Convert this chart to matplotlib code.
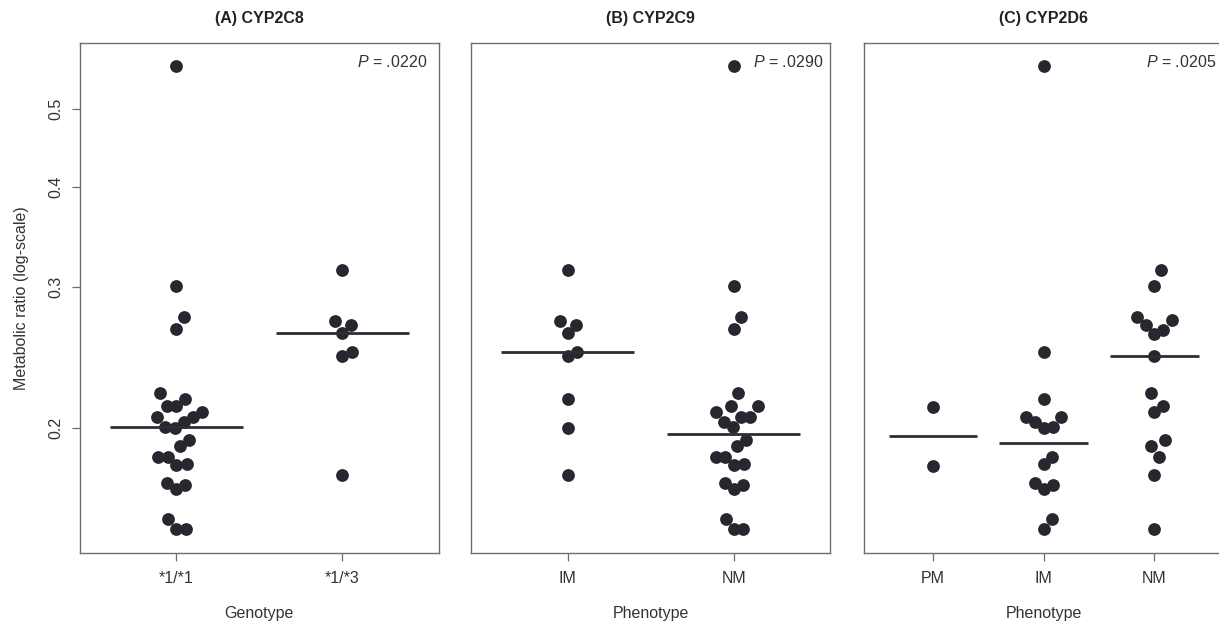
import numpy as np
import matplotlib
matplotlib.use('Agg')
import matplotlib.pyplot as plt

plt.rcParams['font.family'] = ['Liberation Sans', 'DejaVu Sans']
plt.rcParams['mathtext.fontset'] = 'custom'
plt.rcParams['mathtext.it'] = 'Liberation Sans:italic'
plt.rcParams['mathtext.rm'] = 'Liberation Sans'

# metabolic ratios
c8_11 = [0.566, 0.301, 0.275, 0.266, 0.221, 0.217, 0.213, 0.2126, 0.209, 0.2064,
         0.2064, 0.2031, 0.2004, 0.1998, 0.193, 0.1899, 0.1838, 0.1837, 0.180,
         0.1795, 0.1707, 0.1696, 0.1678, 0.1538, 0.1493, 0.1493]
c8_13 = [0.315, 0.272, 0.2688, 0.2624, 0.2489, 0.246, 0.1745]

c9_im = [0.315, 0.272, 0.2688, 0.2624, 0.2489, 0.246, 0.2172, 0.1998, 0.1745]
c9_nm = [0.566, 0.301, 0.275, 0.266, 0.221, 0.213, 0.2126, 0.209, 0.2064, 0.2064,
         0.2031, 0.2004, 0.193, 0.1899, 0.1838, 0.1837, 0.180, 0.1795, 0.1707,
         0.1696, 0.1678, 0.1538, 0.1493, 0.1493]

d6_pm = [0.2123, 0.1793]
d6_im = [0.566, 0.2489, 0.2174, 0.2064, 0.2035, 0.2064, 0.2, 0.2006, 0.184, 0.180,
         0.1707, 0.1694, 0.1678, 0.1538, 0.1493]
d6_nm = [0.3144, 0.301, 0.2753, 0.2727, 0.2688, 0.2652, 0.2618, 0.2458, 0.221,
         0.2129, 0.209, 0.193, 0.1899, 0.1837, 0.1745, 0.1493]

# horizontal summary lines as drawn
c8_lines = [0.2001, 0.2624]
c9_lines = [0.2489, 0.1966]
d6_lines = [0.1950, 0.1916, 0.2458]

titles = ['(A) CYP2C8', '(B) CYP2C9', '(C) CYP2D6']
xlabels = ['Genotype', 'Phenotype', 'Phenotype']
groups = [['*1/*1', '*1/*3'], ['IM', 'NM'], ['PM', 'IM', 'NM']]
pvals = ['.0220', '.0290', '.0205']
panels = [[c8_11, c8_13], [c9_im, c9_nm], [d6_pm, d6_im, d6_nm]]
lines = [c8_lines, c9_lines, d6_lines]

DOT = '#272730'
GREY = '#6e6e6e'
TXT = '#333333'
FS = 11.5
YLIM = (0.1393, 0.6056)


def swarm(ax, xpos, vals, sx=9.3, sy=21.0):
    # beeswarm style offsets, done in screen pixels, lowest values first
    vals = np.asarray(vals, float)
    disp = ax.transData.transform(np.column_stack([np.full(len(vals), xpos), vals]))
    ys = disp[:, 1]
    order = np.argsort(vals, kind='stable')
    px = np.zeros(len(vals))
    done = []
    for i in order:
        close = [j for j in done if abs(ys[i] - ys[j]) < sy]
        offs = [sx * np.sqrt(1 - ((ys[i] - ys[j]) / sy) ** 2) for j in close]
        cand = [0.0]
        cand += [px[j] + o for j, o in zip(close, offs)]
        cand += [px[j] - o for j, o in zip(close, offs)]
        best = None
        for c in cand:
            ok = all(abs(c - px[j]) >= o - 1e-6 for j, o in zip(close, offs))
            if ok and (best is None or abs(c) < abs(best) - 1e-9):
                best = c
        px[i] = best
        done.append(i)
    xs = ax.transData.inverted().transform(
        np.column_stack([disp[:, 0] + px, ys]))[:, 0]
    return xs


fig = plt.figure(figsize=(12.19, 6.22), dpi=100)
W, H = 1219.0, 622.0
lefts = [80.0, 471.3, 864.3]
width = 358.7
bottom_px, top_px = 553.3, 42.7
p_x = [0.969, 0.980, 0.981]

for k in range(3):
    ax = fig.add_axes([lefts[k] / W, 1 - bottom_px / H, width / W, (bottom_px - top_px) / H])
    n = len(groups[k])
    ax.set_yscale('log')
    ax.set_ylim(YLIM)
    ax.set_xlim(0.5 - 0.04 * n, n + 0.5 + 0.04 * n)
    ax.minorticks_off()

    for g, vals in enumerate(panels[k]):
        xs = swarm(ax, g + 1, vals)
        ax.plot(xs, vals, 'o', color=DOT, ms=9.2, mec=DOT, mew=0, zorder=3)
        ax.plot([g + 1 - 0.4, g + 1 + 0.4], [lines[k][g]] * 2, color='#2d2d35',
                lw=2.0, solid_capstyle='butt', zorder=4)

    ax.set_xticks(range(1, n + 1))
    ax.set_xticklabels(groups[k])
    if k == 0:
        ax.set_yticks([0.2, 0.3, 0.4, 0.5])
        ax.set_yticklabels(['0.2', '0.3', '0.4', '0.5'], rotation=90, va='center')
        ax.set_ylabel('Metabolic ratio (log-scale)', fontsize=FS, color=TXT, labelpad=14)
        ax.tick_params(axis='y', length=6, width=0.9, color=GREY, pad=6,
                       labelsize=FS, labelcolor=TXT)
    else:
        ax.set_yticks([])
    ax.tick_params(axis='x', length=6, width=0.9, color=GREY, pad=7,
                   labelsize=FS, labelcolor=TXT)
    for sp in ax.spines.values():
        sp.set_color(GREY)
        sp.set_linewidth(1.0)
    ax.set_xlabel(xlabels[k], fontsize=FS, color=TXT, labelpad=14)
    ax.set_title(titles[k], fontsize=FS, fontweight='bold', color='#222222', pad=14)
    ax.text(p_x[k], 0.963, r'$\it{P}$ = ' + pvals[k], transform=ax.transAxes,
            ha='right', va='center', fontsize=FS, color=TXT)

fig.savefig('out.png', dpi=100)
